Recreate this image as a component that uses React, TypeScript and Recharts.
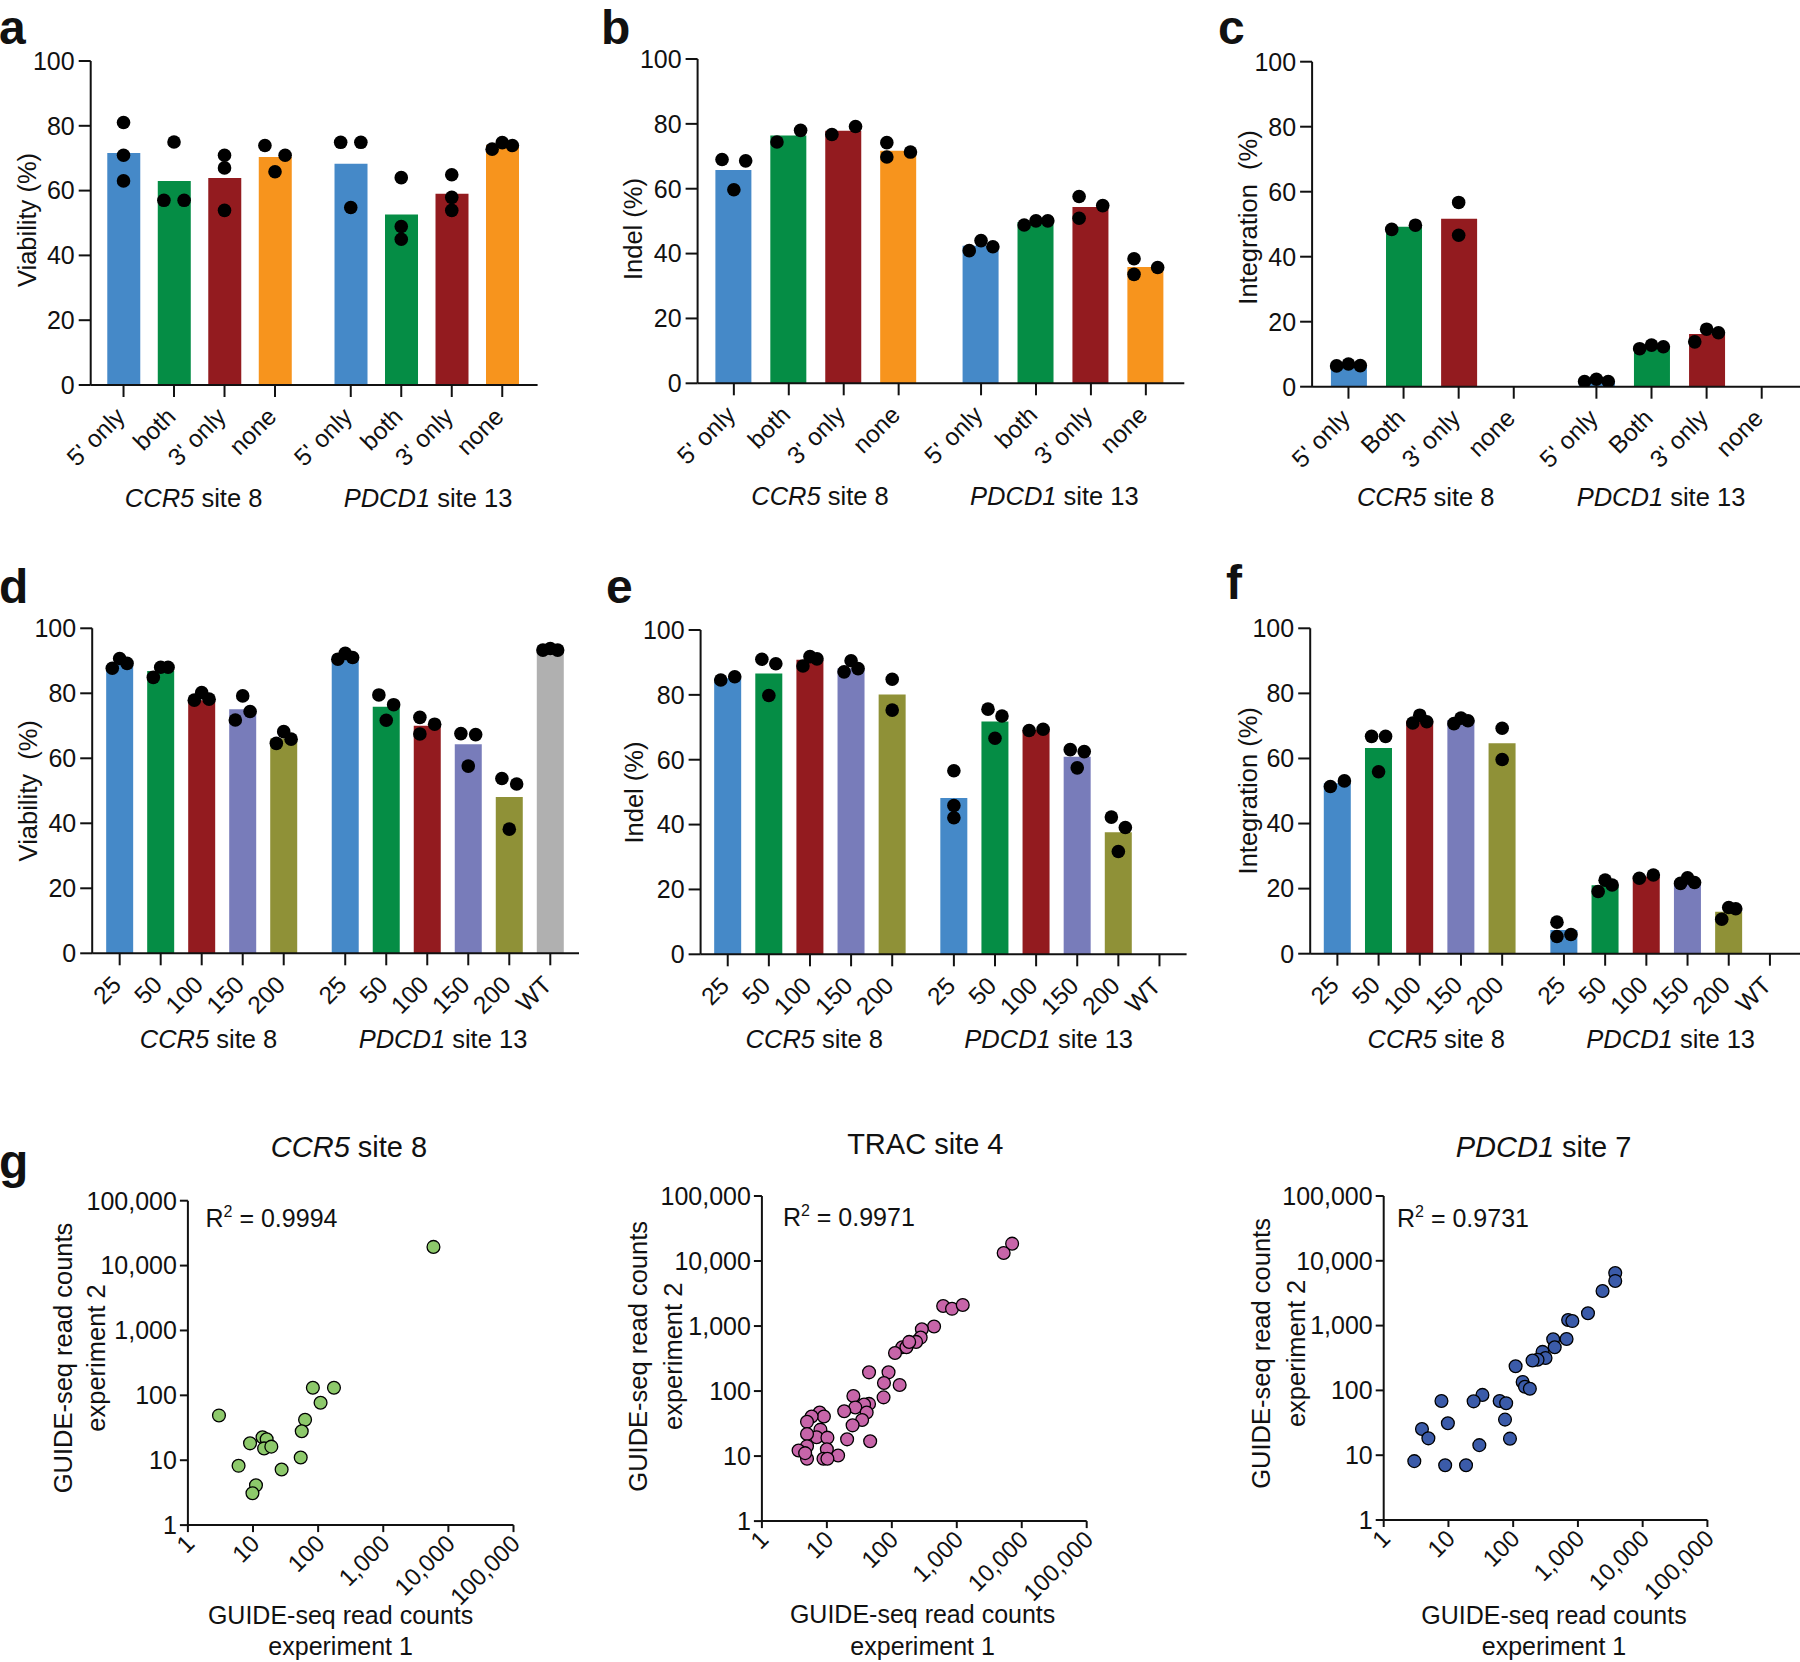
import React from 'react';
import { ComposedChart, ScatterChart, Bar, Scatter, XAxis, YAxis, Cell } from 'recharts';

const FONT = '"Liberation Sans", Arial, Helvetica, sans-serif';
const INK = '#111';

// colours
const BLUE = '#4589c8';
const GREEN = '#058d45';
const RED = '#931b1f';
const ORANGE = '#f7941d';
const PURPLE = '#787cba';
const OLIVE = '#8f9137';
const GREY = '#b0b0b0';

const COLORS_AC = [BLUE, GREEN, RED, ORANGE, BLUE, GREEN, RED, ORANGE];
const COLORS_DF = [BLUE, GREEN, RED, PURPLE, OLIVE, BLUE, GREEN, RED, PURPLE, OLIVE, GREY];

// category slots (gap of half a slot between the two sites)
const POS_AC = [1, 2, 3, 4, 5.5, 6.5, 7.5, 8.5];
const POS_DF = [1, 2, 3, 4, 5, 6.5, 7.5, 8.5, 9.5, 10.5, 11.5];

const LABELS_AB = ["5' only", 'both', "3' only", 'none', "5' only", 'both', "3' only", 'none'];
const LABELS_C = ["5' only", 'Both', "3' only", 'none', "5' only", 'Both', "3' only", 'none'];
const LABELS_DF = ['25', '50', '100', '150', '200', '25', '50', '100', '150', '200', 'WT'];

const Y_TICKS = [0, 20, 40, 60, 80, 100];

// a: viability
const A_BARS = [71.6, 63.0, 63.9, 70.4, 68.3, 52.6, 59.0, 74.1];
const A_REPS = [
  [81.0, 70.9, 63.0], [75.0, 57.0, 57.0], [70.9, 67.0, 53.9], [73.9, 70.9, 65.8],
  [74.9, 74.9, 54.8], [64.0, 48.9, 45.0], [64.9, 57.9, 53.9], [72.8, 74.8, 73.9],
];
const A_JIT = [
  [0, 0, 0], [0, -1, 1], [0, 0, 0], [-1, 1, 0],
  [-1, 1, 0], [0, 0, 0], [0, 0, 0], [-1, 0, 1],
];

// b: indel
const B_BARS = [65.8, 76.4, 77.9, 71.7, 42.4, 49.7, 54.4, 35.9];
const B_REPS = [
  [69.0, 68.6, 59.7], [74.4, 78.0], [76.7, 79.2], [74.2, 69.8, 71.3],
  [40.9, 44.0, 42.1], [48.8, 50.1, 50.1], [57.6, 50.9, 54.8], [38.4, 33.6, 35.7],
];
const B_JIT = [
  [-1, 1, 0], [-1, 1], [-1, 1], [-1, -1, 1],
  [-1, 0, 1], [-1, 0, 1], [-1, -1, 1], [-1, -1, 1],
];

// c: integration
const C_BARS = [6.6, 49.2, 51.7, null, 1.8, 12.3, 16.2, null];
const C_REPS = [
  [6.4, 7.0, 6.5], [48.4, 49.7], [56.7, 46.6], [],
  [1.6, 2.3, 1.6], [11.7, 12.8, 12.3], [13.8, 17.7, 16.6], [],
];
const C_JIT = [
  [-1, 0, 1], [-1, 1], [0, 0], [],
  [-1, 0, 1], [-1, 0, 1], [-1, 0, 1], [],
];

// d: viability by dose
const D_BARS = [88.7, 86.9, 77.9, 75.1, 66.1, 91.3, 75.9, 70.0, 64.3, 48.1, 93.3];
const D_REPS = [
  [87.7, 90.7, 89.2], [84.9, 88.0, 88.0], [77.9, 80.2, 78.2], [79.2, 71.8, 74.4], [64.6, 68.2, 65.9],
  [90.5, 92.3, 91.0], [79.5, 76.5, 71.7], [72.6, 67.5, 70.5], [67.6, 67.3, 57.6], [53.8, 52.1, 38.2],
  [93.3, 93.8, 93.3],
];
const D_JIT = [
  [-1, 0, 1], [-1, 0, 1], [-1, 0, 1], [0, -1, 1], [-1, 0, 1],
  [-1, 0, 1], [-1, 1, 0], [-1, -1, 1], [-1, 1, 0], [-1, 1, 0],
  [-1, 0, 1],
];

// e: indel by dose
const E_BARS = [85.1, 86.6, 90.8, 88.2, 80.1, 48.2, 71.8, 69.2, 60.9, 37.6, null];
const E_REPS = [
  [84.6, 85.6], [91.0, 89.6, 79.8], [88.9, 91.8, 91.1], [87.1, 90.5, 88.1], [84.8, 75.3],
  [56.6, 45.9, 42.1], [75.6, 73.5, 66.6], [69.0, 69.4], [63.1, 62.5, 57.5], [42.3, 39.1, 31.7],
  [],
];
const E_JIT = [
  [-1, 1], [-1, 1, 0], [-1, 0, 1], [-1, 0, 1], [0, 0],
  [0, 0, 0], [-1, 1, 0], [-1, 1], [-1, 1, 0], [-1, 1, 0],
  [],
];

// f: integration by dose
const F_BARS = [52.4, 63.2, 71.6, 71.8, 64.7, 7.3, 21.0, 23.7, 21.9, 12.9, null];
const F_REPS = [
  [51.4, 53.1], [66.8, 66.8, 55.9], [70.9, 73.3, 71.3], [70.7, 72.4, 71.6], [69.3, 59.7],
  [9.7, 5.3, 5.9], [19.1, 22.6, 21.1], [23.2, 24.2], [21.6, 23.3, 21.9], [10.6, 14.2, 13.8],
  [],
];
const F_JIT = [
  [-1, 1], [-1, 1, 0], [-1, 0, 1], [-1, 0, 1], [0, 0],
  [-1, -1, 1], [-1, 0, 1], [-1, 1], [-1, 0, 1], [-1, 0, 1],
  [],
];

// g: GUIDE-seq read counts, experiment 1 vs experiment 2
const LOG_TICKS = [1, 10, 100, 1000, 10000, 100000];

const CCR5_EXP1 = [3.0, 5900, 83, 175, 109, 63, 56, 54, 27.5, 9.0, 14, 16.2, 14.8, 19.1, 6.0, 11.1, 9.8];
const CCR5_EXP2 = [49, 19400, 131, 131, 77, 42, 28, 11, 7.2, 18.2, 22.6, 21, 15.2, 16.2, 8.2, 4.1, 3.1];

const TRAC_EXP1 = [
  7110, 5270, 617, 845, 1235, 447, 290, 278, 236, 145, 168, 185, 112, 44.6, 89, 75.7, 132, 74.6,
  25.6, 44.6, 37.4, 27.4, 18.5, 41, 34.9, 24.9, 20.5, 46.4, 7.75, 9.0, 5.83, 4.95, 7.96, 6.95,
  4.95, 10.2, 4.95, 3.67, 10.0, 14.9, 4.95, 8.87, 10.2, 4.63,
];
const TRAC_EXP2 = [
  18500, 13300, 2030, 1840, 2110, 985, 890, 664, 570, 472, 472, 570, 385, 194, 194, 133, 124, 80,
  84, 63.5, 62, 56, 49, 46.8, 35.9, 29.7, 18.1, 16.9, 46.8, 40.7, 40.7, 33.6, 25.5, 19.5,
  21.9, 19.2, 14.2, 12.2, 12.7, 10.2, 9.1, 9.1, 9.1, 11.1,
];

const PDCD1_EXP1 = [
  3770, 3770, 2400, 1430, 706, 820, 668, 415, 438, 284, 316, 238, 199, 109, 140, 152, 181,
  61.8, 77.9, 74.8, 89.2, 33.5, 24.5, 7.8, 9.8, 30, 18.7, 8.9, 2.97, 3.9, 4.9,
];
const PDCD1_EXP2 = [
  6470, 4890, 3420, 1550, 1220, 1175, 621, 614, 463, 393, 316, 297, 289, 236, 135, 114, 106,
  68.6, 63.5, 35.4, 18.0, 85.2, 67.8, 68.6, 31.1, 14.3, 7.0, 7.0, 8.1, 25.4, 18.2,
];

const fmt = (v: number) => Number(v).toLocaleString('en-US');

type Plot = { x0: number; x1: number; y0: number; y1: number };

const dotShape = (p: any) => <circle cx={p.cx} cy={p.cy} r={6.8} fill="#000" />;

function BarPanel(props: {
  left: number; top: number; width: number; height: number; plot: Plot;
  domain: [number, number]; pos: number[]; labels: string[]; colors: string[];
  bars: (number | null)[]; reps: number[][]; jit: number[][]; step: number; barSize: number;
}) {
  const { left, top, width, height, plot, domain, pos, labels, colors, bars, reps, jit, step, barSize } = props;
  const barData = pos.map((x, i) => ({ x, v: bars[i] }));
  const dotData = reps.flatMap((r, i) => r.map((v, k) => ({ x: pos[i] + jit[i][k] * step, v })));
  const catTick = (t: any) => {
    const idx = pos.indexOf(t.payload.value);
    const ax = t.x + 3;
    const ay = t.y + 21;
    return (
      <text x={ax} y={ay} textAnchor="end" transform={`rotate(-45 ${ax} ${ay})`}
        fontSize={24.5} fontFamily={FONT} fill={INK}>{labels[idx]}</text>
    );
  };
  return (
    <div style={{ position: 'absolute', left, top }}>
      <ComposedChart width={width} height={height} data={barData}
        margin={{ top: plot.y0 - top, right: left + width - plot.x1, bottom: 0, left: 0 }}>
        <XAxis dataKey="x" type="number" domain={domain} ticks={pos} interval={0} allowDataOverflow
          height={top + height - plot.y1} tickSize={12} tickMargin={0} tick={catTick}
          stroke={INK} strokeWidth={2} tickLine={{ stroke: INK, strokeWidth: 2 }} />
        <XAxis xAxisId="dots" dataKey="x" type="number" domain={domain} allowDataOverflow hide />
        <YAxis dataKey="v" type="number" domain={[0, 100]} ticks={Y_TICKS} interval={0} allowDataOverflow
          width={plot.x0 - left} tickSize={12} tickMargin={4}
          tick={{ fontSize: 25, fontFamily: FONT, fill: INK }}
          stroke={INK} strokeWidth={2} tickLine={{ stroke: INK, strokeWidth: 2 }} />
        <Bar dataKey="v" barSize={barSize} isAnimationActive={false}>
          {barData.map((d, i) => <Cell key={i} fill={colors[i]} />)}
        </Bar>
        <Scatter xAxisId="dots" data={dotData} dataKey="v" isAnimationActive={false} shape={dotShape} />
      </ComposedChart>
    </div>
  );
}

const logXTick = (t: any) => {
  const ax = t.x + 8;
  const ay = t.y + 13;
  return (
    <text x={ax} y={ay} textAnchor="end" transform={`rotate(-45 ${ax} ${ay})`}
      fontSize={24} fontFamily={FONT} fill={INK}>{fmt(t.payload.value)}</text>
  );
};

function LogPanel(props: {
  left: number; top: number; width: number; height: number; plot: Plot;
  xs: number[]; ys: number[]; fill: string;
}) {
  const { left, top, width, height, plot, xs, ys, fill } = props;
  const data = xs.map((x, i) => ({ x, y: ys[i] }));
  const shape = (p: any) => <circle cx={p.cx} cy={p.cy} r={6.4} fill={fill} stroke="#000" strokeWidth={1.3} />;
  return (
    <div style={{ position: 'absolute', left, top }}>
      <ScatterChart width={width} height={height}
        margin={{ top: plot.y0 - top, right: left + width - plot.x1, bottom: 0, left: 0 }}>
        <XAxis dataKey="x" type="number" scale="log" domain={[1, 100000]} ticks={LOG_TICKS} interval={0}
          allowDataOverflow height={top + height - plot.y1} tickSize={7} tickMargin={0} tick={logXTick}
          stroke={INK} strokeWidth={2} tickLine={{ stroke: INK, strokeWidth: 2 }} />
        <YAxis dataKey="y" type="number" scale="log" domain={[1, 100000]} ticks={LOG_TICKS} interval={0}
          allowDataOverflow width={plot.x0 - left} tickSize={8} tickMargin={3} tickFormatter={fmt}
          tick={{ fontSize: 25, fontFamily: FONT, fill: INK }}
          stroke={INK} strokeWidth={2} tickLine={{ stroke: INK, strokeWidth: 2 }} />
        <Scatter data={data} isAnimationActive={false} shape={shape} />
      </ScatterChart>
    </div>
  );
}

const Letter = ({ x, y, c }: { x: number; y: number; c: string }) => (
  <text x={x} y={y} fontSize={48} fontWeight="bold" fontFamily={FONT} fill={INK}>{c}</text>
);

const YTitle = ({ x, y, children, size = 25.5 }: any) => (
  <text x={x} y={y} transform={`rotate(-90 ${x} ${y})`} textAnchor="middle" dominantBaseline="central"
    fontSize={size} fontFamily={FONT} fill={INK} style={{ whiteSpace: 'pre' }}>{children}</text>
);

const Site = ({ x, y, gene, rest, size = 25.5 }: any) => (
  <text x={x} y={y} textAnchor="middle" fontSize={size} fontFamily={FONT} fill={INK}>
    <tspan fontStyle="italic">{gene}</tspan> {rest}
  </text>
);

const R2 = ({ x, y, v }: any) => (
  <text x={x} y={y} fontSize={25} fontFamily={FONT} fill={INK}>
    R<tspan fontSize={16} dy={-10}>2</tspan><tspan dy={10}> = {v}</tspan>
  </text>
);

const XTitle2 = ({ x, y1, y2 }: any) => (
  <g fontSize={25} fontFamily={FONT} fill={INK} textAnchor="middle">
    <text x={x} y={y1}>GUIDE-seq read counts</text>
    <text x={x} y={y2}>experiment 1</text>
  </g>
);

export default function App() {
  return (
    <div style={{ position: 'absolute', left: 0, top: 0, width: 1800, height: 1662, background: '#fff', overflow: 'hidden' }}>
      <BarPanel left={0} top={0} width={600} height={520} plot={{ x0: 90.7, x1: 537.6, y0: 61, y1: 385 }}
        domain={[0.35, 9.2]} pos={POS_AC} labels={LABELS_AB} colors={COLORS_AC}
        bars={A_BARS} reps={A_REPS} jit={A_JIT} step={0.2} barSize={33} />
      <BarPanel left={600} top={0} width={600} height={520} plot={{ x0: 697.6, x1: 1184.3, y0: 59, y1: 383.3 }}
        domain={[0.34, 9.2]} pos={POS_AC} labels={LABELS_AB} colors={COLORS_AC}
        bars={B_BARS} reps={B_REPS} jit={B_JIT} step={0.215} barSize={36} />
      <BarPanel left={1200} top={0} width={600} height={520} plot={{ x0: 1312.1, x1: 1800, y0: 61.7, y1: 386.7 }}
        domain={[0.34, 9.195]} pos={POS_AC} labels={LABELS_C} colors={COLORS_AC}
        bars={C_BARS} reps={C_REPS} jit={C_JIT} step={0.215} barSize={36} />
      <BarPanel left={0} top={560} width={600} height={500} plot={{ x0: 92.2, x1: 579, y0: 628.3, y1: 953.3 }}
        domain={[0.33, 12.2]} pos={POS_DF} labels={LABELS_DF} colors={COLORS_DF}
        bars={D_BARS} reps={D_REPS} jit={D_JIT} step={0.18} barSize={27} />
      <BarPanel left={600} top={560} width={600} height={500} plot={{ x0: 700.6, x1: 1186.6, y0: 630, y1: 954.3 }}
        domain={[0.34, 12.16]} pos={POS_DF} labels={LABELS_DF} colors={COLORS_DF}
        bars={E_BARS} reps={E_REPS} jit={E_JIT} step={0.17} barSize={27} />
      <BarPanel left={1200} top={560} width={600} height={500} plot={{ x0: 1310.2, x1: 1800, y0: 628.3, y1: 953.7 }}
        domain={[0.34, 12.23]} pos={POS_DF} labels={LABELS_DF} colors={COLORS_DF}
        bars={F_BARS} reps={F_REPS} jit={F_JIT} step={0.17} barSize={27} />

      <LogPanel left={0} top={1100} width={600} height={562} plot={{ x0: 187.9, x1: 513.5, y0: 1200.7, y1: 1525.1 }}
        xs={CCR5_EXP1} ys={CCR5_EXP2} fill="#8dc96b" />
      <LogPanel left={600} top={1100} width={600} height={562} plot={{ x0: 761.9, x1: 1086.7, y0: 1196, y1: 1521.1 }}
        xs={TRAC_EXP1} ys={TRAC_EXP2} fill="#c765a9" />
      <LogPanel left={1200} top={1100} width={600} height={562} plot={{ x0: 1383.7, x1: 1707.4, y0: 1196, y1: 1520 }}
        xs={PDCD1_EXP1} ys={PDCD1_EXP2} fill="#3b5ba9" />

      <svg width={1800} height={1662} style={{ position: 'absolute', left: 0, top: 0, pointerEvents: 'none' }}>
        <Letter x={-1} y={44} c="a" />
        <Letter x={601} y={44} c="b" />
        <Letter x={1218} y={44} c="c" />
        <Letter x={-1} y={603} c="d" />
        <Letter x={606} y={603} c="e" />
        <Letter x={1226} y={599} c="f" />
        <Letter x={-1} y={1178} c="g" />

        <YTitle x={26.8} y={220}>Viability (%)</YTitle>
        <YTitle x={632.5} y={229}>Indel (%)</YTitle>
        <YTitle x={1247.8} y={217.5}>{'Integration  (%)'}</YTitle>
        <YTitle x={27.6} y={790.8}>{'Viability  (%)'}</YTitle>
        <YTitle x={633.7} y={792.5}>Indel (%)</YTitle>
        <YTitle x={1247.8} y={790.8}>Integration (%)</YTitle>

        <Site x={193.6} y={506.7} gene="CCR5" rest="site 8" />
        <Site x={428} y={506.7} gene="PDCD1" rest="site 13" />
        <Site x={820} y={505} gene="CCR5" rest="site 8" />
        <Site x={1054.4} y={505} gene="PDCD1" rest="site 13" />
        <Site x={1425.7} y={505.7} gene="CCR5" rest="site 8" />
        <Site x={1661} y={505.7} gene="PDCD1" rest="site 13" />
        <Site x={208.5} y={1048.3} gene="CCR5" rest="site 8" />
        <Site x={443} y={1048.3} gene="PDCD1" rest="site 13" />
        <Site x={814.3} y={1048.3} gene="CCR5" rest="site 8" />
        <Site x={1048.7} y={1048.3} gene="PDCD1" rest="site 13" />
        <Site x={1436.3} y={1048.3} gene="CCR5" rest="site 8" />
        <Site x={1670.7} y={1048.3} gene="PDCD1" rest="site 13" />

        <Site x={349} y={1157} gene="CCR5" rest="site 8" size={29} />
        <text x={925.3} y={1153.8} textAnchor="middle" fontSize={29} fontFamily={FONT} fill={INK}>TRAC site 4</text>
        <Site x={1543.6} y={1157.3} gene="PDCD1" rest="site 7" size={29} />

        <R2 x={205.5} y={1227} v="0.9994" />
        <R2 x={782.9} y={1226.2} v="0.9971" />
        <R2 x={1397} y={1227} v="0.9731" />

        <YTitle x={63} y={1358}>GUIDE-seq read counts</YTitle>
        <YTitle x={95.7} y={1358}>experiment 2</YTitle>
        <YTitle x={638.3} y={1356.3}>GUIDE-seq read counts</YTitle>
        <YTitle x={672.7} y={1356.3}>experiment 2</YTitle>
        <YTitle x={1261.2} y={1353.4}>GUIDE-seq read counts</YTitle>
        <YTitle x={1295.7} y={1353.4}>experiment 2</YTitle>

        <XTitle2 x={340.6} y1={1624} y2={1655} />
        <XTitle2 x={922.6} y1={1622.5} y2={1655} />
        <XTitle2 x={1554} y1={1623.6} y2={1655} />
      </svg>
    </div>
  );
}
